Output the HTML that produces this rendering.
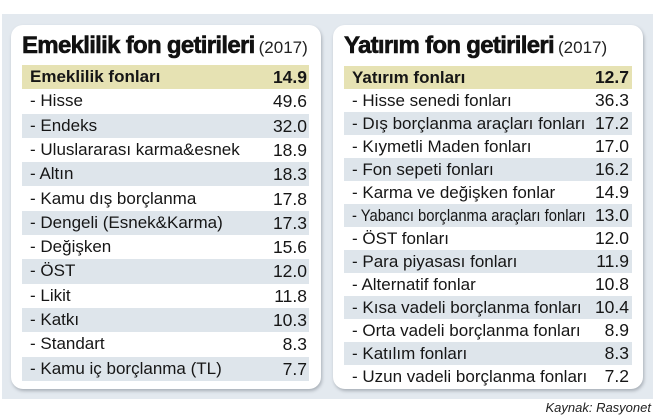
<!DOCTYPE html>
<html>
<head>
<meta charset="utf-8">
<style>
  html, body { margin:0; padding:0; }
  body { width:657px; height:420px; position:relative; background:#ffffff; overflow:hidden;
         font-family:"Liberation Sans", "DejaVu Sans", sans-serif; color:#161616; }
  .bg { position:absolute; left:2px; top:14px; width:651px; height:385px; background:#e3e9ef; }
  .card { position:absolute; top:25px; height:364px; background:#fff; border-radius:12px;
          box-shadow: 1px 2px 3px rgba(60,70,80,0.35); }
  .title { position:absolute; top:34px; height:24px; line-height:24px; white-space:nowrap; }
  .title b { font-size:24px; letter-spacing:-0.7px; font-weight:bold; color:#111; -webkit-text-stroke:0.6px #111; }
  .title span { font-size:17px; font-weight:normal; color:#222; margin-left:4px; }
  .row { position:absolute; white-space:nowrap; font-size:17px; }
  .row .l { position:absolute; left:8px; top:0; }
  .row .v { position:absolute; right:2px; top:0; font-size:17.5px; }
  .hd { background:#e6e2b3; font-weight:bold; }
  .st { background:#dee5eb; }
  .sq { display:inline-block; transform:scaleX(0.87); transform-origin:left center; }
  .src { position:absolute; right:6px; top:400px; font-size:13px; font-style:italic; color:#222; }
</style>
</head>
<body>
<div class="bg"></div>
<div class="card" style="left:11px; width:310px;"></div>
<div class="card" style="left:333px; width:310px;"></div>

<div class="title" style="left:22px;"><b>Emeklilik fon getirileri</b><span>(2017)</span></div>
<div class="title" style="left:344px;"><b>Yatırım fon getirileri</b><span>(2017)</span></div>

<!-- Left table -->
<div style="position:absolute; left:22px; top:65px; width:287px;">
  <div class="row hd" style="top:0px; width:287px; height:24.3px; line-height:24.3px;"><span class="l">Emeklilik fonları</span><span class="v">14.9</span></div>
  <div class="row" style="top:24.3px; width:287px; height:24.3px; line-height:24.3px;"><span class="l">- Hisse</span><span class="v">49.6</span></div>
  <div class="row st" style="top:48.6px; width:287px; height:24.3px; line-height:24.3px;"><span class="l">- Endeks</span><span class="v">32.0</span></div>
  <div class="row" style="top:72.9px; width:287px; height:24.3px; line-height:24.3px;"><span class="l">- Uluslararası karma&amp;esnek</span><span class="v">18.9</span></div>
  <div class="row st" style="top:97.2px; width:287px; height:24.3px; line-height:24.3px;"><span class="l">- Altın</span><span class="v">18.3</span></div>
  <div class="row" style="top:121.5px; width:287px; height:24.3px; line-height:24.3px;"><span class="l">- Kamu dış borçlanma</span><span class="v">17.8</span></div>
  <div class="row st" style="top:145.8px; width:287px; height:24.3px; line-height:24.3px;"><span class="l">- Dengeli (Esnek&amp;Karma)</span><span class="v">17.3</span></div>
  <div class="row" style="top:170.1px; width:287px; height:24.3px; line-height:24.3px;"><span class="l">- Değişken</span><span class="v">15.6</span></div>
  <div class="row st" style="top:194.4px; width:287px; height:24.3px; line-height:24.3px;"><span class="l">- ÖST</span><span class="v">12.0</span></div>
  <div class="row" style="top:218.7px; width:287px; height:24.3px; line-height:24.3px;"><span class="l">- Likit</span><span class="v">11.8</span></div>
  <div class="row st" style="top:243.0px; width:287px; height:24.3px; line-height:24.3px;"><span class="l">- Katkı</span><span class="v">10.3</span></div>
  <div class="row" style="top:267.3px; width:287px; height:24.3px; line-height:24.3px;"><span class="l">- Standart</span><span class="v">8.3</span></div>
  <div class="row st" style="top:291.6px; width:287px; height:24.3px; line-height:24.3px;"><span class="l">- Kamu iç borçlanma (TL)</span><span class="v">7.7</span></div>
</div>

<!-- Right table -->
<div style="position:absolute; left:344px; top:65.5px; width:288px;">
  <div class="row hd" style="top:0px; width:288px; height:23px; line-height:23px;"><span class="l">Yatırım fonları</span><span class="v" style="right:3px;">12.7</span></div>
  <div class="row" style="top:23px; width:288px; height:23px; line-height:23px;"><span class="l">- Hisse senedi fonları</span><span class="v" style="right:3px;">36.3</span></div>
  <div class="row st" style="top:46px; width:288px; height:23px; line-height:23px;"><span class="l">- Dış borçlanma araçları fonları</span><span class="v" style="right:3px;">17.2</span></div>
  <div class="row" style="top:69px; width:288px; height:23px; line-height:23px;"><span class="l">- Kıymetli Maden fonları</span><span class="v" style="right:3px;">17.0</span></div>
  <div class="row st" style="top:92px; width:288px; height:23px; line-height:23px;"><span class="l">- Fon sepeti fonları</span><span class="v" style="right:3px;">16.2</span></div>
  <div class="row" style="top:115px; width:288px; height:23px; line-height:23px;"><span class="l">- Karma ve değişken fonlar</span><span class="v" style="right:3px;">14.9</span></div>
  <div class="row st" style="top:138px; width:288px; height:23px; line-height:23px;"><span class="l"><span class="sq">- Yabancı borçlanma araçları fonları</span></span><span class="v" style="right:3px;">13.0</span></div>
  <div class="row" style="top:161px; width:288px; height:23px; line-height:23px;"><span class="l">- ÖST fonları</span><span class="v" style="right:3px;">12.0</span></div>
  <div class="row st" style="top:184px; width:288px; height:23px; line-height:23px;"><span class="l">- Para piyasası fonları</span><span class="v" style="right:3px;">11.9</span></div>
  <div class="row" style="top:207px; width:288px; height:23px; line-height:23px;"><span class="l">- Alternatif fonlar</span><span class="v" style="right:3px;">10.8</span></div>
  <div class="row st" style="top:230px; width:288px; height:23px; line-height:23px;"><span class="l">- Kısa vadeli borçlanma fonları</span><span class="v" style="right:3px;">10.4</span></div>
  <div class="row" style="top:253px; width:288px; height:23px; line-height:23px;"><span class="l">- Orta vadeli borçlanma fonları</span><span class="v" style="right:3px;">8.9</span></div>
  <div class="row st" style="top:276px; width:288px; height:23px; line-height:23px;"><span class="l">- Katılım fonları</span><span class="v" style="right:3px;">8.3</span></div>
  <div class="row" style="top:299px; width:288px; height:23px; line-height:23px;"><span class="l">- Uzun vadeli borçlanma fonları</span><span class="v" style="right:3px;">7.2</span></div>
</div>

<div class="src">Kaynak: Rasyonet</div>
</body>
</html>
